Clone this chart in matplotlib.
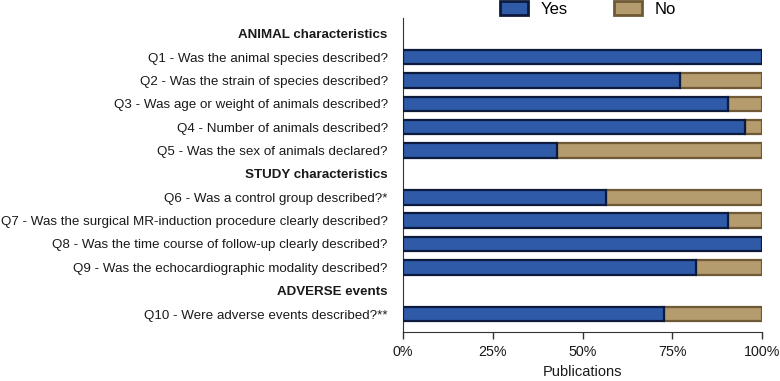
import matplotlib
matplotlib.use("Agg")
import matplotlib.pyplot as plt
from matplotlib.patches import Patch

plt.rcParams['font.family'] = ['Liberation Sans', 'DejaVu Sans']

labels = [
    "ANIMAL characteristics",
    "Q1 - Was the animal species described?",
    "Q2 - Was the strain of species described?",
    "Q3 - Was age or weight of animals described?",
    "Q4 - Number of animals described?",
    "Q5 - Was the sex of animals declared?",
    "STUDY characteristics",
    "Q6 - Was a control group described?*",
    "Q7 - Was the surgical MR-induction procedure clearly described?",
    "Q8 - Was the time course of follow-up clearly described?",
    "Q9 - Was the echocardiographic modality described?",
    "ADVERSE events",
    "Q10 - Were adverse events described?**",
]
is_header = [True, False, False, False, False, False, True, False, False, False, False, True, False]
yes_vals = [None, 100, 77.2, 90.5, 95.3, 42.9, None, 56.5, 90.5, 100, 81.6, None, 72.7]
xticks = [0, 25, 50, 75, 100]
xticklabels = ["0%", "25%", "50%", "75%", "100%"]

yes_fill = "#2f5aa8"
yes_edge = "#0b1a3d"
no_fill = "#b59c6f"
no_edge = "#6f5a35"
text_color = "#1a1a1a"

fig = plt.figure(figsize=(7.8, 3.81), dpi=100)
ax = fig.add_axes([403/780, 1-332/381, (762-403)/780, (332-18)/381])

ys = list(range(len(labels)))
for y, v in zip(ys, yes_vals):
    if v is None:
        continue
    no = 100 - v
    if no > 0:
        ax.barh(y, no, left=v, height=0.62, color=no_fill, edgecolor=no_edge, linewidth=1.6, zorder=2)
    ax.barh(y, v, left=0, height=0.62, color=yes_fill, edgecolor=yes_edge, linewidth=1.6, zorder=3)

ax.set_ylim(12.77, -0.68)
ax.set_xlim(0, 100)
ax.set_yticks(ys)
ax.set_yticklabels(labels, fontsize=9.6)
for lab, h in zip(ax.get_yticklabels(), is_header):
    if h:
        lab.set_fontweight('bold')
ax.tick_params(axis='y', length=0, pad=11, colors=text_color)
ax.set_xticks(xticks)
ax.set_xticklabels(xticklabels, fontsize=10.3)
ax.tick_params(axis='x', length=5, width=1, color='#333333', labelcolor=text_color, pad=4)
ax.set_xlabel("Publications", fontsize=10.5, color=text_color, labelpad=5)

for s in ['top', 'right']:
    ax.spines[s].set_visible(False)
ax.spines['left'].set_color('#333333')
ax.spines['bottom'].set_color('#333333')

handles = [Patch(facecolor=yes_fill, edgecolor=yes_edge, linewidth=2.0, label="Yes"),
           Patch(facecolor=no_fill, edgecolor=no_edge, linewidth=2.0, label="No")]
fig.legend(handles=handles, loc='center', bbox_to_anchor=(588/780, 1-9/381), ncol=2,
           frameon=False, fontsize=12, handlelength=1.65, handleheight=0.85,
           columnspacing=2.8, handletextpad=0.75, borderpad=0)

fig.savefig("out.png", dpi=100)
